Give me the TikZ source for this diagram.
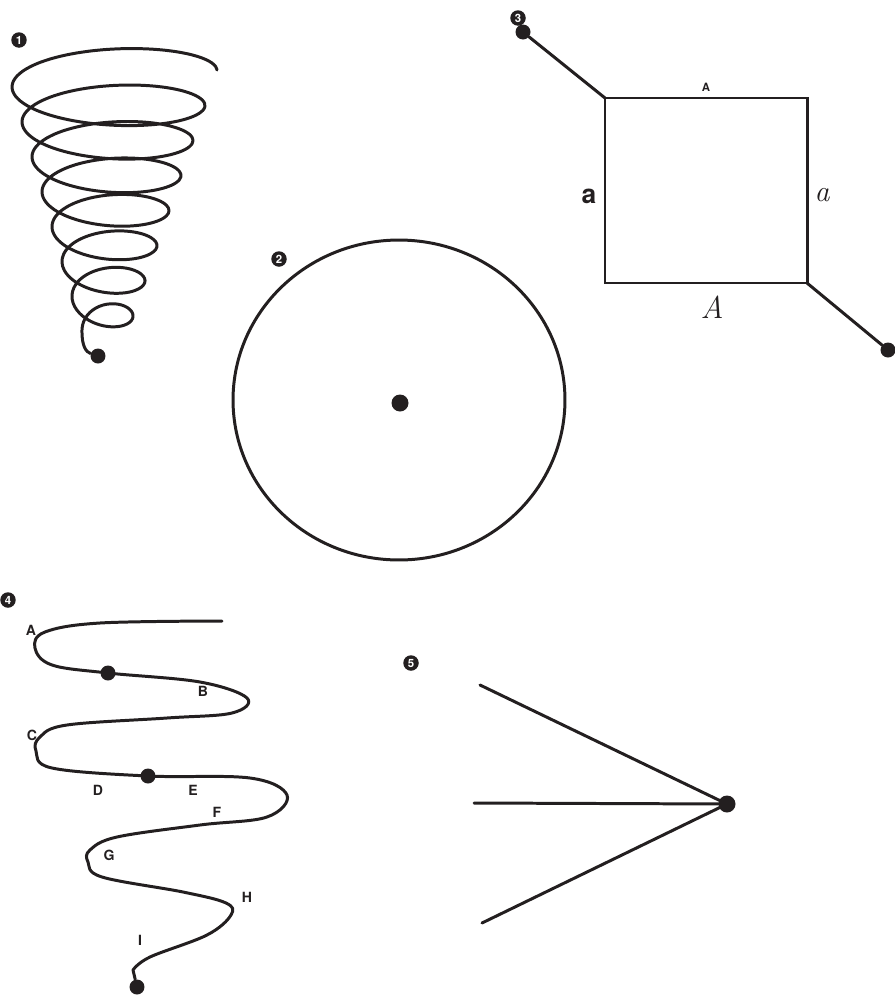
\documentclass[tikz,border=0pt]{standalone}
\usepackage{fontspec}
\setsansfont{TeX Gyre Heros}
\usepackage{tikz}
\usetikzlibrary{arrows.meta, positioning, calc}
\definecolor{inkgray}{HTML}{231F20}
\tikzset{
    stroke/.style={draw=inkgray, line width=1.7pt, line cap=round, line join=round},
    dot/.style={circle, fill=inkgray, inner sep=0pt, minimum size=0.3cm},
    bigdot/.style={dot, minimum size=0.34cm},
    badge/.style={circle, fill=inkgray, text=white, inner sep=0pt, minimum size=0.31cm, font=\sffamily\bfseries\fontsize{6.5}{7}\selectfont},
    letter/.style={inner sep=0pt, text=inkgray, font=\sffamily\bfseries\fontsize{8}{9}\selectfont},
    handletter/.style={inner sep=0pt, text=inkgray, font=\rmfamily\itshape}
}
\begin{document}
\begin{tikzpicture}[x=0.02cm, y=-0.02cm]
        \useasboundingbox (0,0) rectangle (895,998);
        % 1: cone spiral
        \node[badge] (b1) at (19,40) {1};
        \node[dot] (spiralend) at (98,356) {};
        \draw[stroke] plot[domain=0:7.5, samples=320, smooth, variable=\u]
            ({112-\u+(105-11*\u)*cos(\u*360)}, {70+35*\u-(30-1.5*\u)*sin(\u*360)})
            .. controls (82,346) and (86,352) .. (spiralend);
        % 2: circle with centre
        \node[badge] (b2) at (279,259) {2};
        \draw[stroke] (399,400) ellipse [x radius=3.32cm, y radius=3.2cm];
        \node[bigdot] (centre) at (400,403) {};
        % 3: square with two leads
        \node[badge] (b3) at (518,18) {3};
        \coordinate (tl) at (605,98);
        \coordinate (tr) at (807,98);
        \coordinate (br) at (807,283);
        \coordinate (bl) at (605,283);
        \node[dot] (leadin) at (523,32) {};
        \node[dot] (leadout) at (888,350) {};
        \draw[stroke, line cap=butt, line join=miter] (tl) -- (tr) -- (br) -- (bl) -- cycle;
        \draw[stroke] (leadin) -- (tl);
        \draw[stroke] (br) -- (leadout);
        \node[letter, font=\sffamily\bfseries\fontsize{6.5}{7}\selectfont] (topA) at (706,87) {A};
        \node[letter, font=\sffamily\bfseries\fontsize{15}{16}\selectfont] (lefta) at (589,196) {a};
        \node[handletter, font=\rmfamily\itshape\fontsize{17}{18}\selectfont] (righta) at (822,195) {a};
        \node[handletter, font=\rmfamily\itshape\fontsize{18}{19}\selectfont] (botA) at (712,307) {A};
        % 4: winding curve
        \node[badge] (b4) at (8,600) {4};
        \node[dot] (wavedot1) at (108,673) {};
        \node[dot] (wavedot2) at (148,776) {};
        \node[dot] (waveend) at (137,987) {};
        \draw[stroke] plot[smooth, tension=0.6] coordinates {
            (222,621) (100,623) (45,632) (35,648) (52,665) (108,673) (200,682)
            (247,698) (232,713) (167,718) (67,725) (40,737) (36,751) (52,768)
            (148,776) (250,778) (287,795) (267,817) (200,825) (117,837) (90,850)
            (88,862) (102,877) (183,892) (226,903) (231,915) (207,935) (150,957)
            (133,970)} -- (waveend);
        \node[letter] (lA) at (31,630) {A};
        \node[letter] (lB) at (203,691) {B};
        \node[letter] (lC) at (32,735) {C};
        \node[letter] (lD) at (98,790) {D};
        \node[letter] (lE) at (193,790) {E};
        \node[letter] (lF) at (217,812) {F};
        \node[letter] (lG) at (109,855) {G};
        \node[letter] (lH) at (247,897) {H};
        \node[letter] (lI) at (140,940) {I};
        % 5: three lines to one point
        \node[badge] (b5) at (411,663) {5};
        \node[bigdot] (hub) at (727,804) {};
        \coordinate (upper) at (480,685);
        \coordinate (middle) at (474,803);
        \coordinate (lower) at (482,923);
        \draw[stroke] (upper) -- (hub.center);
        \draw[stroke] (middle) -- (hub.center);
        \draw[stroke] (lower) -- (hub.center);
    \end{tikzpicture}
\end{document}
